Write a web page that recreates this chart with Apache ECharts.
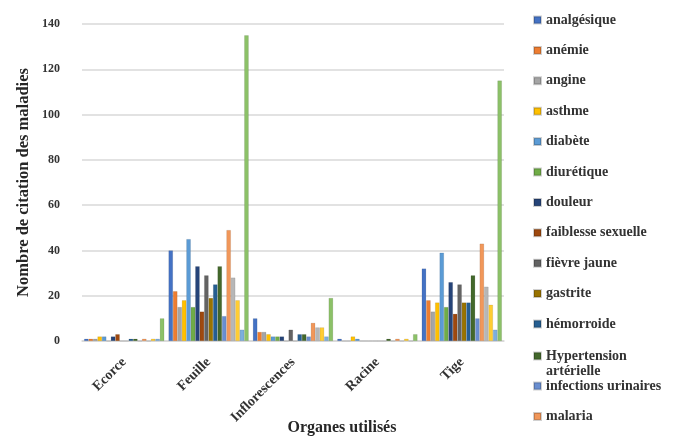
<!DOCTYPE html>
<html>
<head>
<meta charset="utf-8">
<script src="https://cdn.jsdelivr.net/npm/echarts@6/dist/echarts.min.js"></script>
<style>
  html, body { margin: 0; padding: 0; background: #ffffff; }
  #chart { width: 675px; height: 436px; }
</style>
</head>
<body>
<div id="chart"></div>
<script>
// Plant organs (x categories)
const organes = ['Ecorce', 'Feuille', 'Inflorescences', 'Racine', 'Tige'];

// Y axis ticks
const yTicks = { min: 0, max: 140, interval: 20 };

// Citations per disease, one value per organ (Ecorce, Feuille, Inflorescences, Racine, Tige)
const analgesique        = [1, 40, 10, 1, 32];
const anemie             = [1, 22, 4, 0, 18];
const angine             = [1, 15, 4, 0, 13];
const asthme             = [2, 18, 3, 2, 17];
const diabete            = [2, 45, 2, 1, 39];
const diuretique         = [0, 15, 2, 0, 15];
const douleur            = [2, 33, 2, 0, 26];
const faiblesseSexuelle  = [3, 13, 0, 0, 12];
const fievreJaune        = [0, 29, 5, 0, 25];
const gastrite           = [0, 19, 0, 0, 17];
const hemorroide         = [1, 25, 3, 0, 17];
const hypertension       = [1, 33, 3, 1, 29];
const infectionsUrinaires= [0, 11, 2, 0, 10];
const malaria            = [1, 49, 8, 1, 43];
const plaies             = [0, 28, 6, 0, 24];
const rhumatisme         = [1, 18, 6, 1, 16];
const toux               = [1, 5, 2, 0, 5];
const versIntestinaux    = [10, 135, 19, 3, 115];

const seriesNames = [
  'analgésique', 'anémie', 'angine', 'asthme', 'diabète', 'diurétique',
  'douleur', 'faiblesse sexuelle', 'fièvre jaune', 'gastrite', 'hémorroide',
  'Hypertension artérielle', 'infections urinaires', 'malaria',
  'plaies', 'rhumatisme', 'toux', 'vers intestinaux'
];
const seriesValues = [
  analgesique, anemie, angine, asthme, diabete, diuretique,
  douleur, faiblesseSexuelle, fievreJaune, gastrite, hemorroide,
  hypertension, infectionsUrinaires, malaria,
  plaies, rhumatisme, toux, versIntestinaux
];
const palette = [
  '#4472C4', '#ED7D31', '#A5A5A5', '#FFC000', '#5B9BD5', '#70AD47',
  '#264478', '#9E480E', '#636363', '#997300', '#255E91', '#43682B',
  '#698ED0', '#F1975A', '#B7B7B7', '#FFCD33', '#7CAFDD', '#8CC168'
];

const FONT = "'Liberation Serif', 'Times New Roman', serif";
const TEXT = '#333333';

const legendText = {
  fontFamily: FONT, fontWeight: 'bold', fontSize: 14, color: TEXT, lineHeight: 15
};
const legendBase = {
  orient: 'vertical', left: 533, padding: 0,
  itemWidth: 7, itemHeight: 7, itemGap: 15.4,
  icon: 'rect', textStyle: legendText
};

const chart = echarts.init(document.getElementById('chart'), null, { renderer: 'canvas' });

chart.setOption({
  animation: false,
  color: palette,
  grid: { left: 82, right: 171, top: 24, bottom: 95, outerBoundsMode: 'none' },
  legend: [
    Object.assign({}, legendBase, { top: 12.5, data: seriesNames.slice(0, 11) }),
    // wrapped entry: a blank first line keeps "Hypertension" level with its swatch
    Object.assign({}, legendBase, {
      top: 333.5,
      data: [seriesNames[11]],
      formatter: () => ' \nHypertension\nartérielle'
    }),
    Object.assign({}, legendBase, { top: 378.5, data: seriesNames.slice(12, 14) })
  ],
  xAxis: {
    type: 'category',
    data: organes,
    name: 'Organes utilisés',
    nameLocation: 'middle',
    nameGap: 79,
    nameMoveOverlap: false,
    nameTextStyle: {
      fontFamily: FONT, fontWeight: 'bold', fontSize: 16, color: '#262626',
      padding: [0, 0, 0, 98]
    },
    axisLine: { show: true, lineStyle: { color: '#d9d9d9', width: 1.5 } },
    axisTick: { show: false },
    axisLabel: {
      rotate: 45, margin: 19, interval: 0,
      fontFamily: FONT, fontWeight: 'bold', fontSize: 14, color: TEXT
    }
  },
  yAxis: {
    type: 'value',
    min: yTicks.min, max: yTicks.max, interval: yTicks.interval,
    name: 'Nombre de citation des maladies',
    nameLocation: 'middle',
    nameGap: 50,
    nameMoveOverlap: false,
    nameTextStyle: { fontFamily: FONT, fontWeight: 'bold', fontSize: 16.5, color: '#262626' },
    axisLine: { show: false },
    axisTick: { show: false },
    axisLabel: { margin: 22, fontFamily: FONT, fontWeight: 'bold', fontSize: 12, color: TEXT },
    splitLine: { lineStyle: { color: '#d9d9d9', width: 1.5 } }
  },
  series: seriesNames.map((name, i) => ({
    name,
    type: 'bar',
    data: seriesValues[i],
    barGap: '0%',
    barCategoryGap: '5%',
    itemStyle: { borderColor: 'rgba(0,0,0,0.18)', borderWidth: 0.5 }
  }))
});
</script>
</body>
</html>
